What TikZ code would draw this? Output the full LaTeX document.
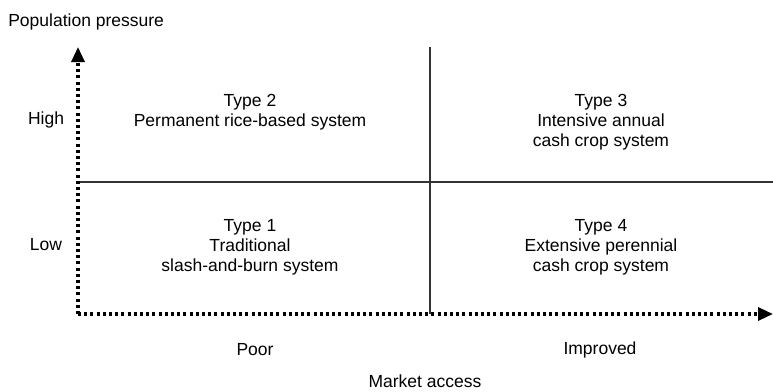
\documentclass[tikz,border=0pt]{standalone}
\usepackage{fontspec}
\setmainfont{Liberation Sans}
\usetikzlibrary{positioning, arrows.meta}

\begin{document}
\begin{tikzpicture}[x=1pt, y=-1pt, semithick, font=\fontsize{17.5}{20}\selectfont]
\tikzstyle{axis}=[line width=3.2pt, dash pattern=on 3pt off 3.2pt, -{Triangle[length=15pt,width=13pt]}]
\tikzstyle{divider}=[line width=1.5pt, draw=black!80]
\tikzstyle{cell}=[align=center, anchor=north, inner sep=0pt]
\useasboundingbox (0,0) rectangle (773,391);
% axes and dividers
\coordinate (O) at (78,314);
\coordinate (Ytop) at (78,47);
\coordinate (Xend) at (773,314);
\coordinate (Vtop) at (430,47);
\coordinate (Vbot) at (430,314);
\coordinate (Hleft) at (78,182);
\coordinate (Hright) at (773,182);
\draw[divider] (Vtop) -- (Vbot);
\draw[divider] (Hleft) -- (Hright);
\draw[axis] (O) -- (Ytop);
\draw[axis] (O) -- (Xend);
% quadrants
\node[cell] (T2) at (250,94) {Type 2\\Permanent rice-based system};
\node[cell] (T3) at (601,94) {Type 3\\Intensive annual\\cash crop system};
\node[cell] (T1) at (250,219) {Type 1\\Traditional\\slash-and-burn system};
\node[cell] (T4) at (601,219) {Type 4\\Extensive perennial\\cash crop system};
% axis labels
\node[anchor=west, inner sep=0pt] (Ylab) at (8,22) {Population pressure};
\node (High) at (46,120) {High};
\node (Low) at (46,245) {Low};
\node (Poor) at (255,350) {Poor};
\node (Impr) at (600,350) {Improved};
\node (Xlab) at (425,381) {Market access};
\end{tikzpicture}
\end{document}
